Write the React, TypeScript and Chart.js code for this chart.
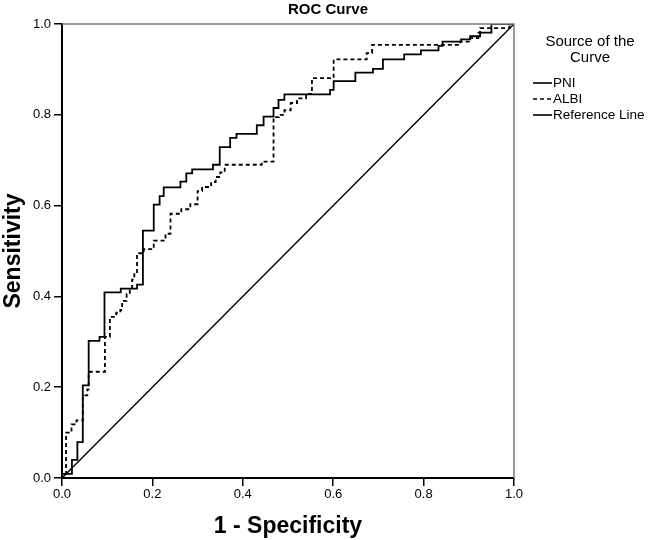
import React, { useEffect, useRef } from "react";
import { Chart, registerables } from "chart.js";

Chart.register(...registerables);

const FONT = "'Liberation Sans', Arial, sans-serif";

const TITLE = "ROC Curve";
const X_TITLE = "1 - Specificity";
const Y_TITLE = "Sensitivity";
const LEGEND_TITLE = ["Source of the", "Curve"];
const SERIES_NAMES = ["PNI", "ALBI", "Reference Line"];
const TICKS = [0, 0.2, 0.4, 0.6, 0.8, 1.0];

const PNI_FPR = [0, 0, 0.022, 0.034, 0.046, 0.059, 0.083, 0.094, 0.130, 0.166, 0.179, 0.203, 0.216, 0.225, 0.262, 0.275, 0.288, 0.334, 0.349, 0.372, 0.386, 0.431, 0.446, 0.468, 0.479, 0.492, 0.593, 0.601, 0.649, 0.688, 0.710, 0.757, 0.794, 0.833, 0.842, 0.883, 0.903, 0.925, 0.950, 1.0];
const PNI_TPR = [0, 0.009, 0.040, 0.079, 0.204, 0.302, 0.311, 0.409, 0.417, 0.426, 0.545, 0.602, 0.621, 0.640, 0.653, 0.671, 0.680, 0.690, 0.729, 0.749, 0.758, 0.777, 0.796, 0.815, 0.833, 0.845, 0.855, 0.874, 0.893, 0.901, 0.922, 0.933, 0.942, 0.952, 0.961, 0.966, 0.973, 0.981, 1.0, 1.0];

const ALBI_FPR = [0, 0.009, 0.021, 0.032, 0.046, 0.056, 0.059, 0.095, 0.106, 0.120, 0.129, 0.133, 0.143, 0.150, 0.155, 0.160, 0.166, 0.181, 0.203, 0.229, 0.240, 0.264, 0.284, 0.300, 0.310, 0.330, 0.340, 0.350, 0.360, 0.442, 0.468, 0.480, 0.492, 0.506, 0.520, 0.540, 0.553, 0.601, 0.674, 0.686, 0.881, 0.903, 0.921, 0.925, 0.990, 1.0];
const ALBI_TPR = [0, 0.100, 0.118, 0.127, 0.182, 0.195, 0.234, 0.311, 0.355, 0.364, 0.370, 0.390, 0.405, 0.414, 0.437, 0.451, 0.495, 0.504, 0.523, 0.538, 0.582, 0.592, 0.603, 0.632, 0.641, 0.652, 0.663, 0.673, 0.690, 0.697, 0.795, 0.800, 0.810, 0.826, 0.836, 0.846, 0.881, 0.922, 0.936, 0.954, 0.961, 0.969, 0.981, 0.991, 1.0, 1.0];

const REF_X = [0, 1];
const REF_Y = [0, 1];

const toPoints = (xs: number[], ys: number[]) => xs.map((x, i) => ({ x, y: ys[i] }));

const decorPlugin = {
  id: "decor",
  afterDatasetsDraw(chart: any) {
    const { ctx, chartArea } = chart;
    const { left, right, top, bottom } = chartArea;
    ctx.save();
    // top and right frame
    ctx.strokeStyle = "#7a7a7a";
    ctx.lineWidth = 1.5;
    ctx.setLineDash([]);
    ctx.beginPath();
    ctx.moveTo(left, top);
    ctx.lineTo(right, top);
    ctx.lineTo(right, bottom);
    ctx.stroke();
    ctx.restore();
  },
  afterDraw(chart: any) {
    const { ctx, chartArea } = chart;
    ctx.save();
    // title
    ctx.fillStyle = "#000";
    ctx.font = `bold 15px ${FONT}`;
    ctx.textAlign = "center";
    ctx.textBaseline = "middle";
    ctx.fillText(TITLE, 328, 10);

    // legend title
    ctx.font = `15px ${FONT}`;
    ctx.fillText(LEGEND_TITLE[0], 590, 42);
    ctx.fillText(LEGEND_TITLE[1], 590, 58);

    // legend items
    const dashes = [[], [4, 3], []];
    const ys = [83, 99, 115];
    ctx.textAlign = "left";
    ctx.font = `13.5px ${FONT}`;
    SERIES_NAMES.forEach((name, i) => {
      ctx.strokeStyle = "#000";
      ctx.lineWidth = 1.6;
      ctx.setLineDash(dashes[i]);
      ctx.beginPath();
      ctx.moveTo(533, ys[i]);
      ctx.lineTo(552, ys[i]);
      ctx.stroke();
      ctx.setLineDash([]);
      ctx.fillText(name, 553, ys[i] + 0.5);
    });
    ctx.restore();
  },
};

export default function App() {
  const ref = useRef<HTMLCanvasElement | null>(null);

  useEffect(() => {
    if (!ref.current) return;
    const chart = new Chart(ref.current, {
      type: "line",
      data: {
        datasets: [
          {
            label: SERIES_NAMES[0],
            data: toPoints(PNI_FPR, PNI_TPR),
            borderColor: "#000",
            borderWidth: 1.8,
            stepped: "before",
            pointRadius: 0,
            fill: false,
          },
          {
            label: SERIES_NAMES[1],
            data: toPoints(ALBI_FPR, ALBI_TPR),
            borderColor: "#000",
            borderWidth: 1.8,
            borderDash: [4, 3],
            stepped: "before",
            pointRadius: 0,
            fill: false,
          },
          {
            label: SERIES_NAMES[2],
            data: toPoints(REF_X, REF_Y),
            borderColor: "#000",
            borderWidth: 1.4,
            pointRadius: 0,
            fill: false,
          },
        ],
      },
      options: {
        animation: false,
        responsive: false,
        maintainAspectRatio: false,
        layout: { padding: { left: 0, top: 24, right: 136, bottom: 0 } },
        plugins: {
          legend: { display: false },
          title: { display: false },
          tooltip: { enabled: false },
        },
        scales: {
          x: {
            type: "linear",
            min: 0,
            max: 1,
            afterBuildTicks: (scale: any) => {
              scale.ticks = TICKS.map((v) => ({ value: v }));
            },
            afterFit: (scale: any) => {
              scale.height = 62;
            },
            ticks: {
              color: "#000",
              font: { family: FONT, size: 13 },
              padding: 1,
              maxRotation: 0,
              callback: (v: any) => Number(v).toFixed(1),
            },
            grid: {
              display: true,
              drawOnChartArea: false,
              drawTicks: true,
              tickLength: 8,
              color: "#000",
              lineWidth: 1.5,
            },
            border: { display: true, color: "#000", width: 2 },
            title: {
              display: true,
              text: X_TITLE,
              color: "#000",
              font: { family: FONT, size: 23, weight: "bold" },
              padding: { top: 0, bottom: 0 },
            },
          },
          y: {
            type: "linear",
            min: 0,
            max: 1,
            afterBuildTicks: (scale: any) => {
              scale.ticks = TICKS.map((v) => ({ value: v }));
            },
            afterFit: (scale: any) => {
              scale.width = 62;
            },
            ticks: {
              color: "#000",
              font: { family: FONT, size: 13 },
              padding: 3,
              callback: (v: any) => Number(v).toFixed(1),
            },
            grid: {
              display: true,
              drawOnChartArea: false,
              drawTicks: true,
              tickLength: 8,
              color: "#000",
              lineWidth: 1.5,
            },
            border: { display: true, color: "#000", width: 2 },
            title: {
              display: true,
              text: Y_TITLE,
              color: "#000",
              font: { family: FONT, size: 23, weight: "bold" },
              padding: { top: 0, bottom: 0 },
            },
          },
        },
      },
      plugins: [decorPlugin],
    } as any);
    return () => chart.destroy();
  }, []);

  return (
    <div style={{ position: "absolute", left: 0, top: 0, width: 650, height: 540, background: "#fff" }}>
      <canvas ref={ref} width={650} height={540} style={{ width: 650, height: 540, display: "block" }} />
    </div>
  );
}
